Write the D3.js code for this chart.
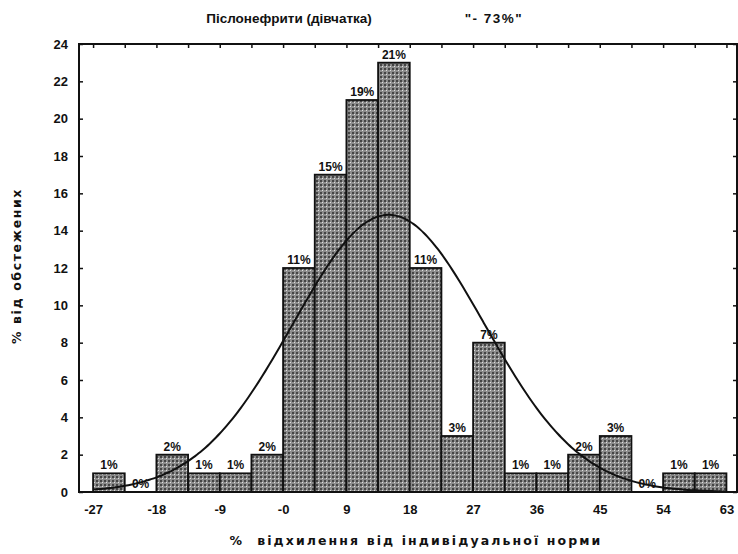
<!DOCTYPE html>
<html>
<head>
<meta charset="utf-8">
<script src="https://cdn.jsdelivr.net/npm/d3@7"></script>
<style>
  body { margin: 0; background: #fff; }
  svg text { font-family: "Liberation Sans", Arial, sans-serif; font-weight: bold; fill: #111; }
</style>
</head>
<body>
<div id="chart"></div>
<script>
"use strict";

// histogram bins (lower / upper edges) and counts
var binLo = [-27, -22.5, -18, -13.5, -9, -4.5, 0, 4.5, 9, 13.5, 18, 22.5, 27, 31.5, 36, 40.5, 45, 49.5, 54, 58.5];
var binHi = [-22.5, -18, -13.5, -9, -4.5, 0, 4.5, 9, 13.5, 18, 22.5, 27, 31.5, 36, 40.5, 45, 49.5, 54, 58.5, 63];
var counts = [1, 0, 2, 1, 1, 2, 12, 17, 21, 23, 12, 3, 8, 1, 1, 2, 3, 0, 1, 1];
var pctLabels = ["1%", "0%", "2%", "1%", "1%", "2%", "11%", "15%", "19%", "21%", "11%", "3%", "7%", "1%", "1%", "2%", "3%", "0%", "1%", "1%"];

var xTickValues = [-27, -18, -9, 0, 9, 18, 27, 36, 45, 54, 63];
var xTickLabels = ["-27", "-18", "-9", "-0", "9", "18", "27", "36", "45", "54", "63"];
var yTickValues = [0, 2, 4, 6, 8, 10, 12, 14, 16, 18, 20, 22, 24];
var topTickValues = [-27, -22.5, -18, -13.5, -9, -4.5, 0, 4.5, 9, 13.5, 18, 22.5, 27, 31.5, 36, 40.5, 45, 49.5, 54, 58.5, 63];

// fitted normal curve
var curveMean = 15;
var curveSd = 13.6;
var curvePeak = 14.85;

var width = 738, height = 554;
var plotLeft = 79, plotRight = 737, plotTop = 44, plotBottom = 492;

var svg = d3.select("#chart").append("svg")
  .attr("width", width)
  .attr("height", height);

var x = d3.scaleLinear().domain([-29, 64.5]).range([plotLeft, plotRight]);
var y = d3.scaleLinear().domain([0, 24]).range([plotBottom, plotTop]);

// dotted grey fill like the scanned pattern
var defs = svg.append("defs");
var pat = defs.append("pattern")
  .attr("id", "dots")
  .attr("patternUnits", "userSpaceOnUse")
  .attr("width", 4).attr("height", 4);
pat.append("rect").attr("width", 4).attr("height", 4).attr("fill", "#8c8c8c");
pat.append("rect").attr("x", 0).attr("y", 0).attr("width", 2).attr("height", 2).attr("fill", "#444");
pat.append("rect").attr("x", 2).attr("y", 2).attr("width", 1).attr("height", 1).attr("fill", "#e0e0e0");

var bars = d3.range(counts.length).map(function(i) {
  return { lo: binLo[i], hi: binHi[i], n: counts[i], label: pctLabels[i] };
});

svg.selectAll(".bar")
  .data(bars)
  .enter()
  .append("rect")
  .attr("class", "bar")
  .attr("x", function(d) { return x(d.lo); })
  .attr("y", function(d) { return y(d.n); })
  .attr("width", function(d) { return x(d.hi) - x(d.lo); })
  .attr("height", function(d) { return y(0) - y(d.n); })
  .attr("fill", "url(#dots)")
  .attr("stroke", "#111")
  .attr("stroke-width", 1.8);

svg.selectAll(".pct")
  .data(bars)
  .enter()
  .append("text")
  .attr("class", "pct")
  .attr("x", function(d) { return (x(d.lo) + x(d.hi)) / 2; })
  .attr("y", function(d) { return y(d.n) - 4; })
  .attr("text-anchor", "middle")
  .attr("font-size", 12)
  .text(function(d) { return d.label; });

// normal curve
var curvePts = d3.range(-27, 63.01, 0.5).map(function(v) {
  var z = (v - curveMean) / curveSd;
  return [v, curvePeak * Math.exp(-0.5 * z * z)];
});
svg.append("path")
  .datum(curvePts)
  .attr("fill", "none")
  .attr("stroke", "#111")
  .attr("stroke-width", 2)
  .attr("d", d3.line().curve(d3.curveBasis)
    .x(function(d) { return x(d[0]); })
    .y(function(d) { return y(d[1]); }));

// frame
svg.append("rect")
  .attr("x", plotLeft).attr("y", plotTop)
  .attr("width", plotRight - plotLeft).attr("height", plotBottom - plotTop)
  .attr("fill", "none")
  .attr("stroke", "#111")
  .attr("stroke-width", 2);

// axes
var xAxis = d3.axisBottom(x)
  .tickValues(xTickValues)
  .tickSize(0)
  .tickPadding(13)
  .tickFormat(function(d, i) { return xTickLabels[i]; });
var gx = svg.append("g").attr("transform", "translate(0," + plotBottom + ")").call(xAxis);
gx.select(".domain").remove();
gx.selectAll("text").attr("font-size", 13).style("font-weight", "bold");

var yAxis = d3.axisLeft(y)
  .tickValues(yTickValues)
  .tickSize(-4)
  .tickPadding(11);
var gy = svg.append("g").attr("transform", "translate(" + plotLeft + ",0)").call(yAxis);
gy.select(".domain").remove();
gy.selectAll("line").attr("stroke", "#111").attr("stroke-width", 1.5);
gy.selectAll("text").attr("font-size", 13).style("font-weight", "bold");

var yAxisR = d3.axisRight(y).tickValues(yTickValues).tickSize(-4).tickFormat("");
var gyr = svg.append("g").attr("transform", "translate(" + plotRight + ",0)").call(yAxisR);
gyr.select(".domain").remove();
gyr.selectAll("line").attr("stroke", "#111").attr("stroke-width", 1.5);

var xAxisT = d3.axisTop(x).tickValues(topTickValues).tickSize(-4).tickFormat("");
var gxt = svg.append("g").attr("transform", "translate(0," + plotTop + ")").call(xAxisT);
gxt.select(".domain").remove();
gxt.selectAll("line").attr("stroke", "#111").attr("stroke-width", 1.5);

// titles
svg.append("text")
  .attr("x", 289).attr("y", 23)
  .attr("text-anchor", "middle")
  .attr("font-size", 13.5)
  .text("Післонефрити (дівчатка)");
svg.append("text")
  .attr("x", 494).attr("y", 23)
  .attr("text-anchor", "middle")
  .attr("font-size", 13.5)
  .attr("letter-spacing", 1.5)
  .text("\"- 73%\"");

svg.append("text")
  .attr("transform", "translate(21," + 266 + ") rotate(-90)")
  .attr("text-anchor", "middle")
  .style("font-family", "'DejaVu Sans', sans-serif")
  .attr("font-size", 12.5)
  .attr("letter-spacing", 1.6)
  .text("% від обстежених");

svg.append("text")
  .attr("x", 416).attr("y", 545)
  .attr("text-anchor", "middle")
  .style("font-family", "'DejaVu Sans', sans-serif")
  .attr("font-size", 12.5)
  .attr("letter-spacing", 2.1)
  .attr("xml:space", "preserve")
  .text("%  відхилення від індивідуальної норми");
</script>
</body>
</html>
